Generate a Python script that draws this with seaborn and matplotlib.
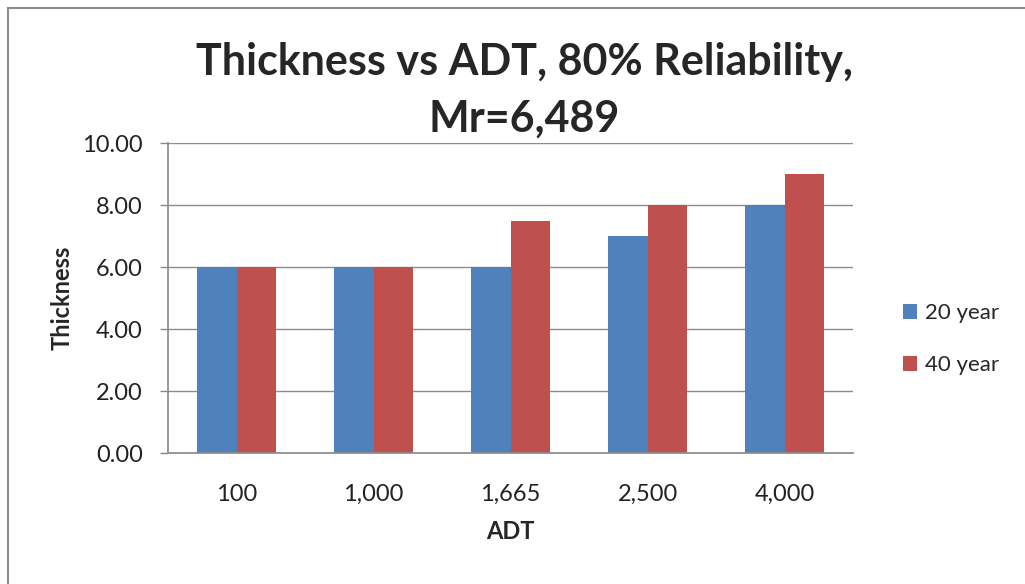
import matplotlib
matplotlib.use("Agg")
import matplotlib.pyplot as plt
import seaborn as sns
import pandas as pd
from matplotlib.patches import Rectangle

# Pavement thickness by average daily traffic for two design periods
adt = ["100", "1,000", "1,665", "2,500", "4,000"]
thick_20yr = [6.0, 6.0, 6.0, 7.0, 8.0]
thick_40yr = [6.0, 6.0, 7.5, 8.0, 9.0]
series = ["20 year", "40 year"]

df = pd.DataFrame({
    "ADT": adt * 2,
    "Thickness": thick_20yr + thick_40yr,
    "Period": [series[0]] * len(adt) + [series[1]] * len(adt),
})

sns.set_theme(style="white")
plt.rcParams["font.family"] = ["Lato", "DejaVu Sans"]

W, H = 1025, 584
fig = plt.figure(figsize=(W / 100, H / 100), dpi=100)
ax = fig.add_axes([168 / W, 1 - 453 / H, (853 - 168) / W, (453 - 143) / H])

palette = {"20 year": "#4F81BD", "40 year": "#C0504D"}
sns.barplot(data=df, x="ADT", y="Thickness", hue="Period", palette=palette,
            width=0.57, saturation=1, linewidth=0, ax=ax, legend=True)

ax.set_ylim(0, 10)
ax.set_xlim(-0.5, len(adt) - 0.5)
ax.set_yticks([0, 2, 4, 6, 8, 10])
ax.set_yticklabels([f"{v:.2f}" for v in [0, 2, 4, 6, 8, 10]], fontsize=17, color="#222222")
ax.tick_params(axis="x", labelsize=17, colors="#222222", length=0, pad=22)
ax.tick_params(axis="y", length=6, width=1, color="#888888", left=True, pad=12)
ax.yaxis.grid(True, color="#8c8c8c", linewidth=1)
ax.set_axisbelow(True)
for side in ["top", "right"]:
    ax.spines[side].set_visible(False)
ax.spines["left"].set_color("#8c8c8c")
ax.spines["bottom"].set_color("#8c8c8c")

ax.set_xlabel("ADT", fontsize=17, fontweight="bold", labelpad=11)
ax.set_ylabel("Thickness", fontsize=17, fontweight="bold", labelpad=6)

leg = ax.legend(loc="center left", bbox_to_anchor=(903 / W, 1 - 339 / H),
                bbox_transform=fig.transFigure, frameon=False, fontsize=16,
                borderpad=0, borderaxespad=0,
                handlelength=0.65, handleheight=0.65, handletextpad=0.35,
                labelspacing=1.45)

fig.text(524 / W, 1 - 90 / H, "Thickness vs ADT, 80% Reliability,\nMr=6,489",
         ha="center", va="center", fontsize=31, fontweight="bold",
         linespacing=1.5)

fig.patches.append(Rectangle((8 / W, -0.1), 1.2, 1 - 8 / H + 0.1,
                             transform=fig.transFigure, fill=False,
                             edgecolor="#8c8c8c", linewidth=1.5))

fig.savefig("out.png", dpi=100)
